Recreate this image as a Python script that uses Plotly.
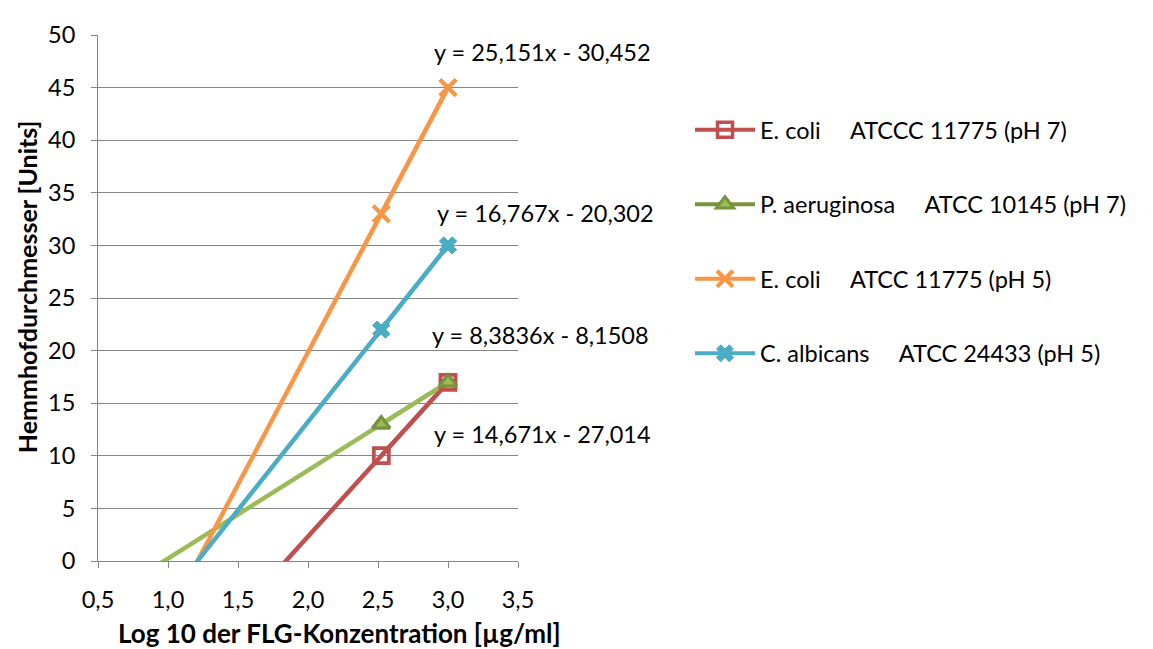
import plotly.graph_objects as go
import numpy as np

# ---- data ----
series_names = [
    "E. coli\u00a0\u00a0\u00a0\u00a0\u00a0ATCCC 11775 (pH 7)",
    "P. aeruginosa\u00a0\u00a0\u00a0\u00a0\u00a0ATCC 10145 (pH 7)",
    "E. coli\u00a0\u00a0\u00a0\u00a0\u00a0ATCC 11775 (pH 5)",
    "C. albicans\u00a0\u00a0\u00a0\u00a0\u00a0ATCC 24433 (pH 5)",
]
x_log = [2.5229, 3.0]
y_ecoli7 = [10, 17]
y_paer7 = [13, 17]
y_ecoli5 = [33, 45]
y_calb5 = [22, 30]
slopes = [14.671, 8.3836, 25.151, 16.767]
intercepts = [-27.014, -8.1508, -30.452, -20.302]
eq_labels = ["y = 14,671x - 27,014", "y = 8,3836x - 8,1508",
             "y = 25,151x - 30,452", "y = 16,767x - 20,302"]
x_ticks = [0.5, 1.0, 1.5, 2.0, 2.5, 3.0, 3.5]
x_ticktext = ["0,5", "1,0", "1,5", "2,0", "2,5", "3,0", "3,5"]
y_ticks = [0, 5, 10, 15, 20, 25, 30, 35, 40, 45, 50]

# ---- styling ----
FONT = "Lato"
FS = 23.5
FT = 26
OFF = 8  # page body margin
W, H = 1153 - OFF, 649 - OFF
line_cols = ["#C0504D", "#77933C", "#F79646", "#4BACC6"]
trend_cols = ["#C0504D", "#9BBB59", "#F79646", "#4BACC6"]
markers = [
    dict(symbol="square-open", size=15, color="#C0504D", line=dict(color="#C0504D", width=3.5)),
    dict(symbol="triangle-up", size=15, color="#9BBB59", line=dict(color="#77933C", width=3)),
    dict(symbol="x-thin-open", size=16, color="#F79646", line=dict(color="#F79646", width=4)),
    dict(symbol="x", size=15, color="#4BACC6", line=dict(color="#4BACC6", width=1)),
]
ys = [y_ecoli7, y_paer7, y_ecoli5, y_calb5]

fig = go.Figure()
for i in range(4):
    fig.add_trace(go.Scatter(
        x=x_log, y=ys[i], mode="lines+markers", name=series_names[i],
        line=dict(color=line_cols[i], width=4), marker=markers[i],
        legendgroup=f"g{i}", cliponaxis=False))
xt = np.array([0.5, 3.0])
for i in range(4):
    fig.add_trace(go.Scatter(
        x=xt, y=slopes[i] * xt + intercepts[i], mode="lines",
        line=dict(color=trend_cols[i], width=4.5), showlegend=False,
        hoverinfo="skip"))
for i in range(4):
    fig.add_trace(go.Scatter(
        x=x_log, y=ys[i], mode="markers", marker=markers[i],
        showlegend=False, cliponaxis=False))

# screen-pixel layout targets
L, R, T, B = 98, 518, 27, 561
def px2paper(px, py):
    return (px - L) / (R - L), (B - py) / (B - T)

eq_pos = [(432, 432), (430, 332), (432, 44), (435, 208)]
for lbl, (px, py) in zip(eq_labels, eq_pos):
    xp, yp = px2paper(px, py)
    fig.add_annotation(text=lbl, xref="paper", yref="paper", x=xp, y=yp,
                       xanchor="left", yanchor="middle", showarrow=False,
                       font=dict(family=FONT, size=FS, color="#000000"))

xp, yp = px2paper(339, 634)
fig.add_annotation(text="<b>Log 10 der FLG-Konzentration [µg/ml]</b>", xref="paper", yref="paper",
                   x=xp, y=yp, xanchor="center", yanchor="middle", showarrow=False,
                   font=dict(family=FONT, size=FT, color="#000000"))
xp, yp = px2paper(27, 283)
fig.add_annotation(text="<b>Hemmhofdurchmesser [Units]</b>", xref="paper", yref="paper",
                   x=xp, y=yp, xanchor="center", yanchor="middle", showarrow=False,
                   textangle=-90, font=dict(family=FONT, size=25, color="#000000"))

fig.update_layout(
    width=W, height=H,
    margin=dict(l=L - OFF, r=W - (R - OFF), t=T - OFF, b=H - (B - OFF)),
    paper_bgcolor="white", plot_bgcolor="white",
    font=dict(family=FONT, size=FS, color="#000000"),
    showlegend=True,
    legend=dict(x=(690 - L) / (R - L), y=(B - 101) / (B - T), xanchor="left", yanchor="top",
                font=dict(family=FONT, size=FS), tracegroupgap=41, itemwidth=60,
                bgcolor="rgba(0,0,0,0)"),
)
fig.update_xaxes(range=[0.5, 3.5], tickvals=x_ticks, ticktext=x_ticktext,
                 showgrid=False, zeroline=False, showline=True, linecolor="#868686", linewidth=1,
                 ticks="outside", ticklen=6, tickcolor="#868686", ticklabelstandoff=12,
                 tickfont=dict(family=FONT, size=FS, color="#000000"))
fig.update_yaxes(range=[0, 50], tickvals=y_ticks, showgrid=True, gridcolor="#868686", gridwidth=1,
                 zeroline=False, showline=True, linecolor="#868686", linewidth=1,
                 ticks="outside", ticklen=6, tickcolor="#868686", ticklabelstandoff=11,
                 tickfont=dict(family=FONT, size=FS, color="#000000"))

fig.write_html("out.html")
